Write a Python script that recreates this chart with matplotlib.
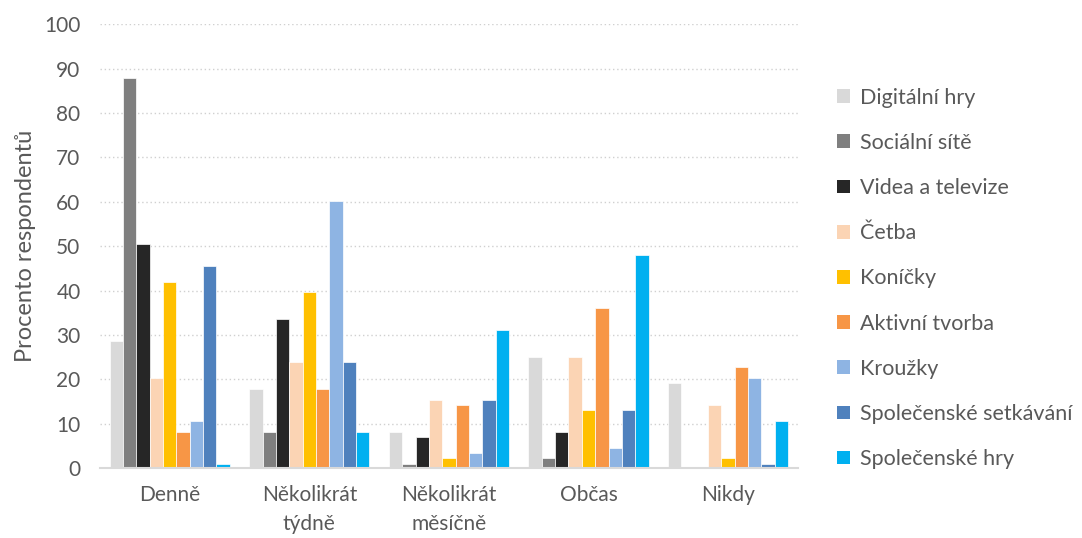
import matplotlib.pyplot as plt
import numpy as np

plt.rcParams['font.family'] = ['Lato', 'DejaVu Sans']

categories = ["Denně", "Několikrát\ntýdně", "Několikrát\nměsíčně", "Občas", "Nikdy"]

series_names = [
    "Digitální hry",
    "Sociální sítě",
    "Videa a televize",
    "Četba",
    "Koníčky",
    "Aktivní tvorba",
    "Kroužky",
    "Společenské setkávání",
    "Společenské hry",
]

digitalni_hry = [28.7, 17.9, 8.2, 25.1, 19.1]
socialni_site = [87.8, 8.2, 1.0, 2.2, 0.0]
videa_televize = [50.5, 33.5, 7.0, 8.2, 0.0]
cetba = [20.2, 23.8, 15.4, 25.1, 14.3]
konicky = [42.0, 39.6, 2.2, 13.1, 2.2]
aktivni_tvorba = [8.1, 17.9, 14.3, 36.0, 22.8]
krouzky = [10.7, 60.1, 3.4, 4.6, 20.3]
spol_setkavani = [45.6, 23.9, 15.4, 13.1, 1.0]
spol_hry = [1.0, 8.1, 31.1, 48.1, 10.7]

colors = ["#D9D9D9", "#7F7F7F", "#262626", "#FBD4B4", "#FFC000",
          "#F79646", "#8EB4E3", "#4F81BD", "#00B0F0"]

data = [digitalni_hry, socialni_site, videa_televize, cetba, konicky,
        aktivni_tvorba, krouzky, spol_setkavani, spol_hry]

fig = plt.figure(figsize=(10.82, 5.38), dpi=100)
ax = fig.add_axes([0.0924, 0.130, 0.645, 0.825])

n = len(data)
x = np.arange(len(categories))
width = 0.86 / n

for i, (vals, name, col) in enumerate(zip(data, series_names, colors)):
    offs = (i - (n - 1) / 2) * width
    ax.bar(x + offs, vals, width, color=col, label=name,
           edgecolor="white", linewidth=0.5, zorder=3)

ax.set_xlim(-0.5, len(categories) - 0.5)
ax.set_ylim(0, 100)
ax.set_yticks(np.arange(0, 101, 10))
ax.set_xticks(x)
ax.set_xticklabels(categories, linespacing=1.55)

ax.yaxis.grid(True, linestyle=(0, (1, 2)), color="#D0D0D0", linewidth=1, zorder=0)
ax.set_axisbelow(True)

for s in ["top", "right", "left"]:
    ax.spines[s].set_visible(False)
ax.spines["bottom"].set_color("#D9D9D9")
ax.spines["bottom"].set_linewidth(1.5)
ax.spines["bottom"].set_zorder(4)

ax.tick_params(axis="both", length=0, labelsize=15, colors="#595959")
ax.tick_params(axis="y", pad=14)
ax.tick_params(axis="x", pad=12)

ax.set_ylabel("Procento respondentů", fontsize=17, color="#595959", labelpad=6)

leg = fig.legend(loc="upper left", bbox_to_anchor=(0.766, 0.853), frameon=False,
                 fontsize=15.5, handlelength=0.6, handleheight=0.6,
                 handletextpad=0.45, labelspacing=1.17, borderaxespad=0)
for t in leg.get_texts():
    t.set_color("#595959")
for h in leg.legend_handles:
    h.set_linewidth(0)

fig.savefig("out.png", dpi=100)
